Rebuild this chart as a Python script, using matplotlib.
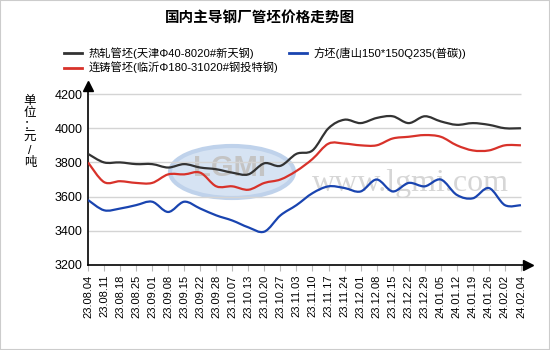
import matplotlib
matplotlib.use("Agg")
import matplotlib.pyplot as plt
from matplotlib.path import Path
from matplotlib.patches import PathPatch, Ellipse, Rectangle
from matplotlib.lines import Line2D

plt.rcParams['font.family'] = ['Liberation Sans', 'Noto Sans CJK SC', 'DejaVu Sans']

dates = ["23.08.04", "23.08.11", "23.08.18", "23.08.25", "23.09.01", "23.09.08",
         "23.09.15", "23.09.22", "23.09.28", "23.10.07", "23.10.13", "23.10.20",
         "23.10.27", "23.11.03", "23.11.10", "23.11.17", "23.11.24", "23.12.01",
         "23.12.08", "23.12.15", "23.12.22", "23.12.29", "24.01.05", "24.01.12",
         "24.01.19", "24.01.26", "24.02.02", "24.02.04"]

hot_rolled = [3850, 3800, 3800, 3790, 3790, 3770, 3790, 3770, 3760, 3740, 3730, 3795,
              3780, 3850, 3870, 4000, 4050, 4030, 4060, 4070, 4030, 4070, 4040, 4020,
              4030, 4020, 4000, 4000]
cont_cast = [3800, 3685, 3690, 3680, 3680, 3730, 3730, 3740, 3660, 3660, 3640, 3680,
             3700, 3750, 3820, 3910, 3910, 3900, 3900, 3940, 3950, 3960, 3950, 3900,
             3870, 3870, 3900, 3900]
square = [3580, 3520, 3530, 3550, 3570, 3510, 3570, 3530, 3490, 3460, 3420, 3395,
          3490, 3550, 3620, 3660, 3650, 3630, 3700, 3630, 3680, 3660, 3700, 3610,
          3590, 3650, 3550, 3550]

series_names = ["热轧管坯(天津Φ40-8020#新天钢)", "连铸管坯(临沂Φ180-31020#钢投特钢)",
                "方坯(唐山150*150Q235(普碳))"]
colors = ["#333333", "#d8322a", "#1944b0"]


def smooth_path(ys):
    # catmull-rom style bezier through the points
    pts = list(zip(range(len(ys)), ys))
    verts = [pts[0]]
    codes = [Path.MOVETO]
    n = len(pts)
    for i in range(n - 1):
        p0 = pts[max(i - 1, 0)]
        p1 = pts[i]
        p2 = pts[i + 1]
        p3 = pts[min(i + 2, n - 1)]
        c1 = (p1[0] + (p2[0] - p0[0]) / 6, p1[1] + (p2[1] - p0[1]) / 6)
        c2 = (p2[0] - (p3[0] - p1[0]) / 6, p2[1] - (p3[1] - p1[1]) / 6)
        verts += [c1, c2, p2]
        codes += [Path.CURVE4] * 3
    return Path(verts, codes)


fig = plt.figure(figsize=(5.5, 3.5), dpi=100)
fig.patches.append(Rectangle((0, 0), 1, 1, transform=fig.transFigure, fill=False,
                             edgecolor="#cccccc", linewidth=1.5))
ax = fig.add_axes([0.16, 0.243, 0.80, 0.5127])

# watermark, behind the lines
ax.add_patch(Ellipse((232 / 550, 1 - 172 / 350), 124 / 550, 52 / 350,
                     transform=fig.transFigure, facecolor="#d6e3f3",
                     edgecolor="#bfd2eb", linewidth=3, zorder=0.5, clip_on=False))
ax.text(230 / 550, 1 - 168 / 350, "LGMI", transform=fig.transFigure, ha="center",
        va="center", fontsize=21, fontweight="bold", color="#c4c4c4", zorder=0.6)
ax.text(410 / 550, 1 - 183 / 350, "www.lgmi.com", transform=fig.transFigure,
        ha="center", va="center", fontsize=23, family="Liberation Serif",
        color="#d6d6d6", zorder=0.6)

yticks = [3200, 3400, 3600, 3800, 4000, 4200]
ax.hlines(yticks[1:], 0, len(dates) - 1, colors="#d4d4d4", linewidth=1, zorder=1)

for ys, c in zip([hot_rolled, cont_cast, square], colors):
    ax.add_patch(PathPatch(smooth_path(ys), facecolor="none", edgecolor=c,
                           linewidth=1.6, zorder=3))

ax.set_xlim(0, 27.44)
ax.set_ylim(3200, 4250)
ax.set_yticks(yticks)
ax.set_xticks(range(len(dates)))
ax.set_xticklabels(dates, rotation=90, fontsize=8)
ax.tick_params(axis="y", length=0, pad=4, labelsize=9)
ax.tick_params(axis="x", length=4, color="#bbbbbb", pad=3)
for s in ["top", "right"]:
    ax.spines[s].set_visible(False)
for s in ["left", "bottom"]:
    ax.spines[s].set_linewidth(1.2)
ax.plot(1, 0, ">k", markersize=7, transform=ax.transAxes, clip_on=False)
ax.plot(0, 1, "^k", markersize=7, transform=ax.transAxes, clip_on=False)
ax.patch.set_alpha(0)

fig.text(30 / 550, 1 - 132 / 350, "\n".join("单位：元/吨"), ha="center", va="center",
         fontsize=9, linespacing=1.05)

fig.text(260 / 550, 1 - 18 / 350, "国内主导钢厂管坯价格走势图", ha="center", va="center",
         fontsize=10.5, fontweight="bold")

handles = [Line2D([], [], color=c, linewidth=2) for c in colors]
fig.legend(handles, series_names, ncol=2, loc="upper left",
           bbox_to_anchor=(54 / 550, 1 - 37 / 350), frameon=False, fontsize=8.1,
           handlelength=1.6, handletextpad=0.6, columnspacing=0.9, labelspacing=0.25)

fig.savefig("out.png", dpi=100)
